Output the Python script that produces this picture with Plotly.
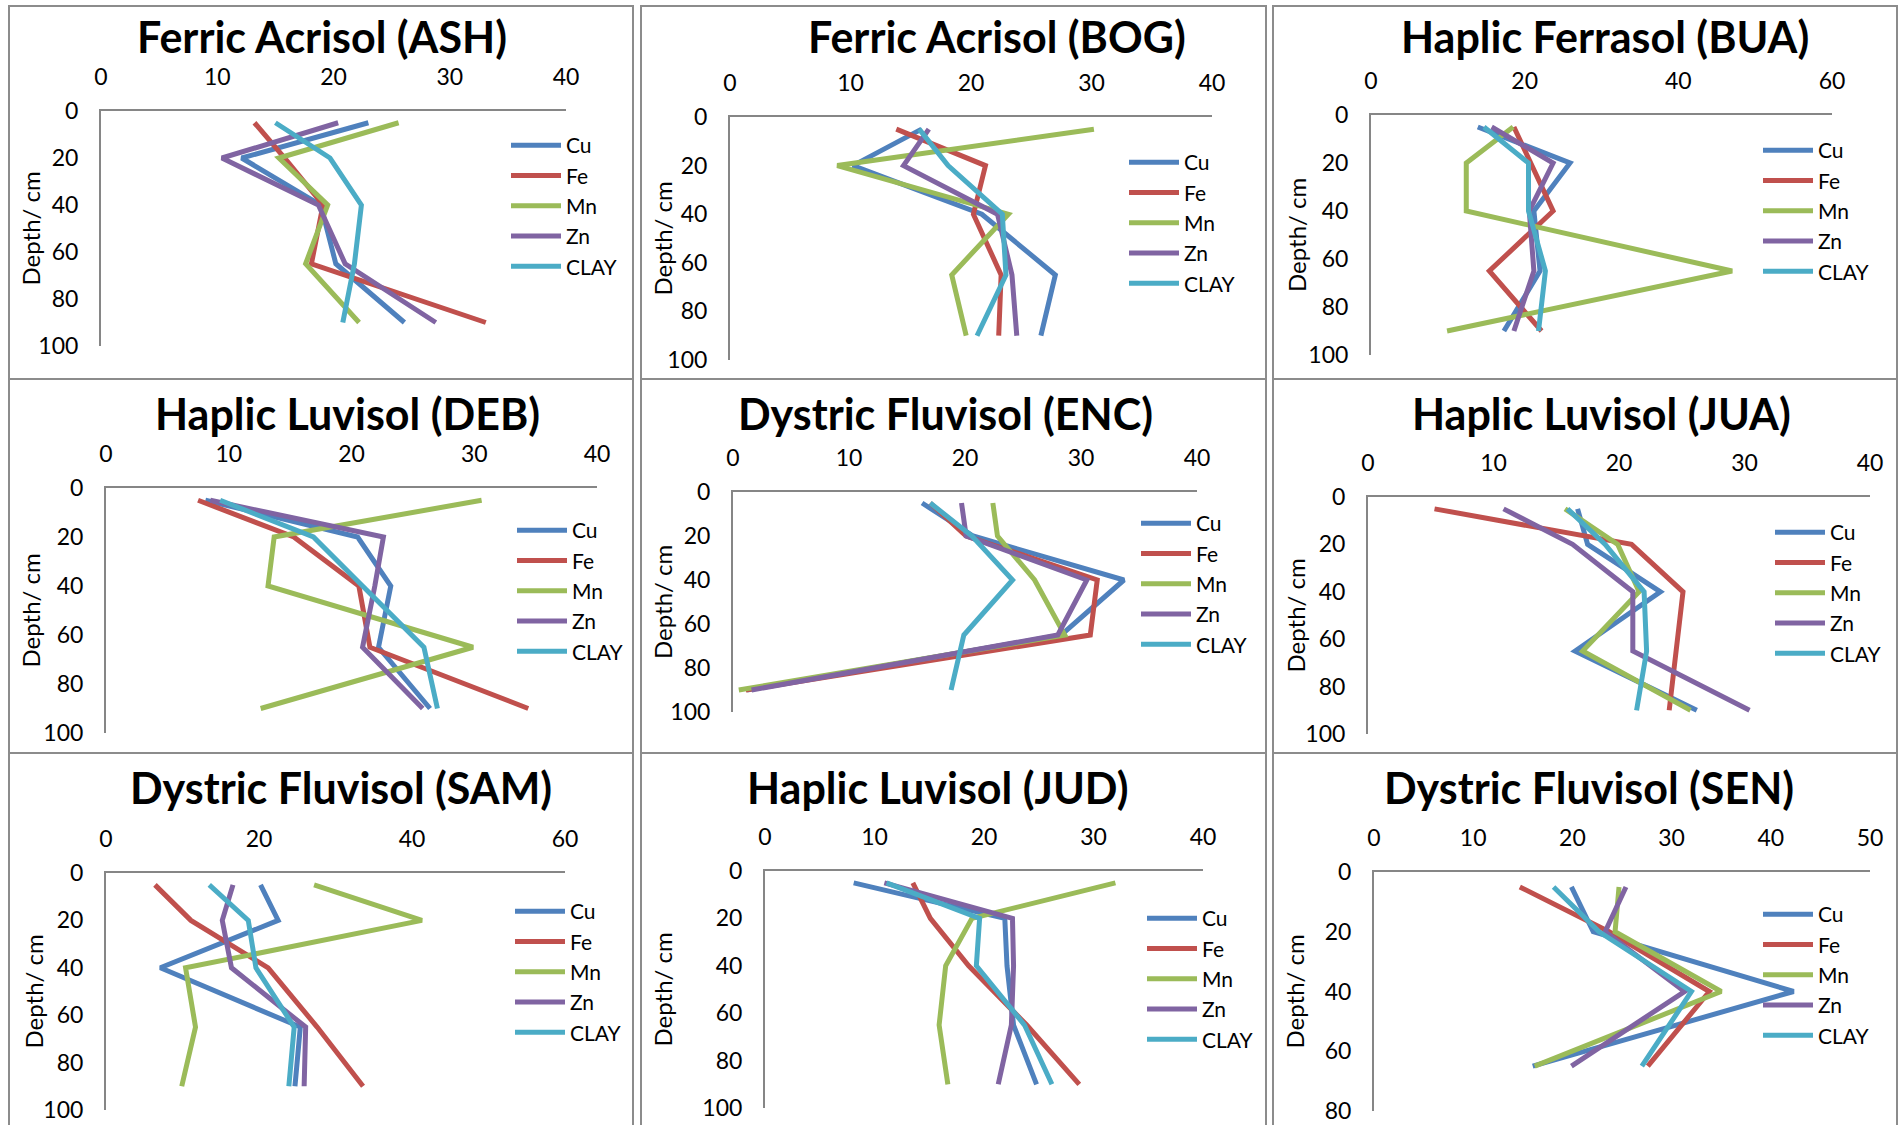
import plotly.graph_objects as go

W, H = 1898, 1125

elements = ["Cu", "Fe", "Mn", "Zn", "CLAY"]
colors = ["#4F81BD", "#C0504D", "#9BBB59", "#8064A2", "#4BACC6"]

depth5 = [5, 20, 40, 65, 90]
depth4 = [5, 20, 40, 65]

titles = ["Ferric Acrisol (ASH)", "Ferric Acrisol (BOG)", "Haplic Ferrasol (BUA)",
          "Haplic Luvisol (DEB)", "Dystric Fluvisol (ENC)", "Haplic Luvisol (JUA)",
          "Dystric Fluvisol (SAM)", "Haplic Luvisol (JUD)", "Dystric Fluvisol (SEN)"]

x_max = [40, 40, 60, 40, 40, 40, 60, 40, 50]
x_dtick = [10, 10, 20, 10, 10, 10, 20, 10, 10]
y_max = [100, 100, 100, 100, 100, 100, 100, 100, 80]

ASH_Cu = [23.0, 12.1, 18.9, 20.2, 26.1]
ASH_Fe = [13.2, 15.8, 19.1, 18.1, 33.1]
ASH_Mn = [25.6, 15.3, 19.5, 17.6, 22.2]
ASH_Zn = [20.4, 10.4, 18.7, 21.0, 28.8]
ASH_CLAY = [15.0, 19.7, 22.4, 21.8, 20.8]

BOG_Cu = [15.9, 10.2, 20.9, 27.0, 25.8]
BOG_Fe = [13.8, 21.2, 20.2, 22.5, 22.3]
BOG_Mn = [30.2, 8.9, 23.1, 18.4, 19.6]
BOG_Zn = [16.5, 14.4, 22.2, 23.4, 23.8]
BOG_CLAY = [15.7, 18.1, 22.6, 22.9, 20.5]

BUA_Cu = [13.9, 25.9, 21.2, 22.0, 17.3]
BUA_Fe = [18.6, 20.8, 23.7, 15.4, 22.2]
BUA_Mn = [18.5, 12.4, 12.4, 47.0, 9.9]
BUA_Zn = [15.7, 23.7, 20.6, 21.2, 18.6]
BUA_CLAY = [14.7, 20.5, 20.5, 22.7, 21.8]

DEB_Cu = [8.1, 20.5, 23.2, 22.2, 26.4]
DEB_Fe = [7.5, 15.3, 20.6, 21.5, 34.4]
DEB_Mn = [30.6, 13.7, 13.2, 29.9, 12.6]
DEB_Zn = [8.5, 22.6, 21.9, 20.9, 25.8]
DEB_CLAY = [9.3, 16.9, 20.9, 25.9, 27.0]

ENC_Cu = [16.3, 20.7, 33.7, 28.3, 1.2]
ENC_Fe = [17.0, 20.1, 31.4, 30.8, 1.1]
ENC_Mn = [22.4, 22.8, 26.0, 28.6, 0.5]
ENC_Zn = [19.7, 20.1, 30.5, 28.0, 1.6]
ENC_CLAY = [17.0, 20.6, 24.1, 19.9, 18.8]

JUA_Cu = [16.7, 17.5, 23.3, 16.5, 26.2]
JUA_Fe = [5.3, 21.0, 25.1, 24.6, 24.0]
JUA_Mn = [15.7, 19.9, 21.6, 17.1, 25.7]
JUA_Zn = [10.8, 16.3, 21.1, 21.1, 30.4]
JUA_CLAY = [15.9, 18.9, 22.0, 22.2, 21.4]

SAM_Cu = [20.2, 22.5, 7.1, 25.4, 24.7]
SAM_Fe = [6.4, 11.1, 21.2, 27.6, 33.6]
SAM_Mn = [27.2, 41.3, 10.4, 11.7, 9.9]
SAM_Zn = [16.6, 15.2, 16.4, 26.1, 25.9]
SAM_CLAY = [13.5, 18.6, 19.6, 24.6, 23.9]

JUD_Cu = [8.1, 21.9, 22.1, 22.7, 24.8]
JUD_Fe = [13.5, 15.1, 18.6, 23.9, 28.7]
JUD_Mn = [32.0, 18.9, 16.5, 15.9, 16.7]
JUD_Zn = [10.9, 22.6, 22.7, 22.5, 21.3]
JUD_CLAY = [11.1, 19.6, 19.3, 23.7, 26.2]

SEN_Cu = [19.9, 22.1, 42.3, 16.0]
SEN_Fe = [14.7, 23.7, 33.8, 27.6]
SEN_Mn = [24.7, 24.3, 35.0, 16.2]
SEN_Zn = [25.4, 23.3, 31.3, 19.9]
SEN_CLAY = [18.1, 22.7, 32.0, 27.0]

panels = [
    (depth5, [ASH_Cu, ASH_Fe, ASH_Mn, ASH_Zn, ASH_CLAY]),
    (depth5, [BOG_Cu, BOG_Fe, BOG_Mn, BOG_Zn, BOG_CLAY]),
    (depth5, [BUA_Cu, BUA_Fe, BUA_Mn, BUA_Zn, BUA_CLAY]),
    (depth5, [DEB_Cu, DEB_Fe, DEB_Mn, DEB_Zn, DEB_CLAY]),
    (depth5, [ENC_Cu, ENC_Fe, ENC_Mn, ENC_Zn, ENC_CLAY]),
    (depth5, [JUA_Cu, JUA_Fe, JUA_Mn, JUA_Zn, JUA_CLAY]),
    (depth5, [SAM_Cu, SAM_Fe, SAM_Mn, SAM_Zn, SAM_CLAY]),
    (depth5, [JUD_Cu, JUD_Fe, JUD_Mn, JUD_Zn, JUD_CLAY]),
    (depth4, [SEN_Cu, SEN_Fe, SEN_Mn, SEN_Zn, SEN_CLAY]),
]

# layout geometry in pixels (x0, x1, y0_top, y1_bottom) of each plot area
plot_px = [
    (101, 566, 111, 346), (730, 1212, 117, 360), (1371, 1832, 115, 355),
    (106, 597, 488, 733), (733, 1197, 492, 712), (1368, 1870, 497, 734),
    (106, 565, 873, 1110), (765, 1203, 871, 1108), (1374, 1870, 872, 1111),
]
title_px = [(322, 37), (997, 37), (1605, 37),
            (347, 413), (945, 413), (1601, 413),
            (341, 787), (938, 787), (1589, 787)]
ytitle_x = [30, 662, 1296, 30, 662, 1295, 33, 662, 1294]
legend_px = [(514, 145), (1132, 162), (1766, 150),
             (520, 530), (1144, 523), (1778, 532),
             (518, 911), (1150, 918), (1766, 914)]
borders_x = [(9, 633), (641, 1266), (1273, 1897)]
borders_y = [(6, 379), (379, 753), (753, 1135)]

FONT = "Lato, 'Open Sans', sans-serif"
AX_COLOR = "#868686"


def px(x):
    return x / W


def py(y):
    return 1 - y / H


fig = go.Figure()
layout = dict(
    width=W, height=H, autosize=False,
    margin=dict(l=0, r=0, t=0, b=0, pad=0, autoexpand=False),
    paper_bgcolor="white", plot_bgcolor="white",
    font=dict(family=FONT, color="black"),
    showlegend=True,
)
annotations = []
shapes = []

for i, (depths, series) in enumerate(panels):
    n = i + 1
    xa = "x" if n == 1 else f"x{n}"
    ya = "y" if n == 1 else f"y{n}"
    lg = "legend" if n == 1 else f"legend{n}"
    for name, col, vals in zip(elements, colors, series):
        fig.add_trace(go.Scatter(
            x=vals, y=depths, mode="lines", name=name,
            line=dict(color=col, width=5),
            xaxis=xa, yaxis=ya, legend=lg, hoverinfo="x+y+name",
        ))
    x0, x1, y0, y1 = plot_px[i]
    layout[f"xaxis{'' if n == 1 else n}"] = dict(
        domain=[px(x0), px(x1)], range=[0, x_max[i]], dtick=x_dtick[i],
        side="top", anchor=ya, showline=True, linecolor=AX_COLOR, linewidth=2,
        showgrid=False, zeroline=False, ticks="", ticklabelstandoff=15,
        tickfont=dict(size=23, family=FONT, color="black"), fixedrange=True,
        automargin=False,
    )
    layout[f"yaxis{'' if n == 1 else n}"] = dict(
        domain=[py(y1), py(y0)], range=[y_max[i], 0], dtick=20,
        anchor=xa, showline=True, linecolor=AX_COLOR, linewidth=2,
        showgrid=False, zeroline=False, ticks="", ticklabelstandoff=16,
        tickfont=dict(size=23, family=FONT, color="black"), fixedrange=True,
        automargin=False,
    )
    lx, ly = legend_px[i]
    layout[lg] = dict(
        x=px(lx - 8), y=py(ly - 20), xanchor="left", yanchor="top",
        bgcolor="rgba(0,0,0,0)", borderwidth=0, itemwidth=50,
        font=dict(size=21, family=FONT, color="black"),
        tracegroupgap=0, itemclick=False, itemdoubleclick=False,
    )
    tx, ty = title_px[i]
    annotations.append(dict(
        x=px(tx), y=py(ty), xref="paper", yref="paper", showarrow=False,
        text="<b>" + titles[i] + "</b>", xanchor="center", yanchor="middle",
        font=dict(size=43, family=FONT, color="black"),
    ))
    annotations.append(dict(
        x=px(ytitle_x[i]), y=py((y0 + y1) / 2), xref="paper", yref="paper",
        showarrow=False, text="Depth/ cm", textangle=-90,
        xanchor="center", yanchor="middle",
        font=dict(size=24, family=FONT, color="black"),
    ))

for bx0, bx1 in borders_x:
    for by0, by1 in borders_y:
        shapes.append(dict(
            type="rect", xref="paper", yref="paper",
            x0=px(bx0), x1=px(bx1), y0=py(by1), y1=py(by0),
            line=dict(color="#8C8C8C", width=2), fillcolor="rgba(0,0,0,0)",
            layer="below",
        ))

layout["annotations"] = annotations
layout["shapes"] = shapes
fig.update_layout(**layout)

fig.write_html(
    "out.html",
    config={"displayModeBar": False, "responsive": False},
    post_script="document.body.style.margin='0';document.body.style.overflow='hidden';",
)
